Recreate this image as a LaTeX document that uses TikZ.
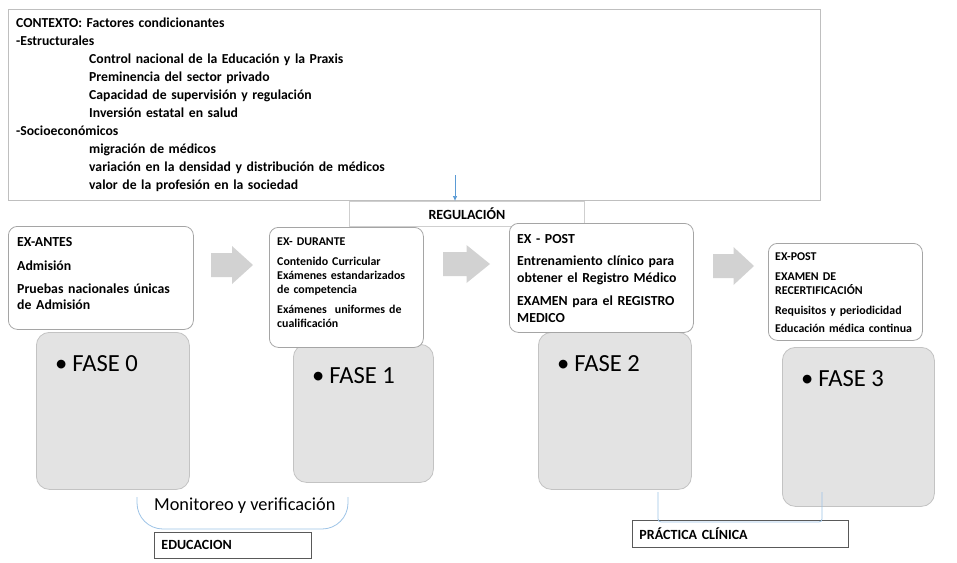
\documentclass[tikz,border=0pt]{standalone}
\usepackage{fontspec}
\setmainfont{Carlito}
\usetikzlibrary{calc,arrows.meta}

\definecolor{lineGray}{HTML}{BFBFBF}
\definecolor{exGray}{HTML}{A5A5A5}
\definecolor{faseFill}{HTML}{E3E3E3}
\definecolor{faseLine}{HTML}{C3C3C3}
\definecolor{arrowFill}{HTML}{D2D2D2}
\definecolor{softBlue}{HTML}{9DC3E6}
\definecolor{midBlue}{HTML}{5B9BD5}
\definecolor{darkLine}{HTML}{595959}

\begin{document}
\begin{tikzpicture}[x=1pt,y=-1pt,
  frame/.style={draw=lineGray, line width=0.8pt, anchor=north west, inner sep=0pt},
  exbox/.style={draw=exGray, line width=0.8pt, fill=white, rounded corners=9pt, anchor=north west, inner sep=0pt},
  fasebox/.style={draw=faseLine, line width=0.8pt, fill=faseFill, rounded corners=13pt, anchor=north west, inner sep=0pt},
  labelbox/.style={draw=darkLine, line width=0.9pt, fill=white, anchor=north west, inner xsep=7pt, inner ysep=0pt, align=left, font=\bfseries\fontsize{14}{16}\selectfont},
  bigtxt/.style={anchor=base west, inner sep=0pt, text width=200pt, align=left, font=\bfseries\fontsize{13.8}{16}\selectfont},
  smalltxt/.style={anchor=base west, inner sep=0pt, text width=180pt, align=left, font=\bfseries\fontsize{11.9}{14}\selectfont},
  fasetxt/.style={anchor=base west, inner sep=0pt, font=\fontsize{24.6}{28}\selectfont},
  bracket/.style={draw=softBlue, line width=0.8pt}
]
\useasboundingbox (0,0) rectangle (957,562);

% contexto y regulacion
\node[frame, minimum width=812, minimum height=191] (ctx) at (8,9) {};
\node[anchor=base west, inner sep=0pt, text width=700pt, align=left,
      font=\bfseries\fontsize{13.7}{18}\selectfont] (ctxTxt) at (16,27.5)
  {CONTEXTO: Factores condicionantes\\
   -Estructurales\\
   \hspace*{73pt}Control nacional de la Educación y la Praxis\\
   \hspace*{73pt}Preminencia del sector privado\\
   \hspace*{73pt}Capacidad de supervisión y regulación\\
   \hspace*{73pt}Inversión estatal en salud\\
   -Socioeconómicos\\
   \hspace*{73pt}migración de médicos\\
   \hspace*{73pt}variación en la densidad y distribución de médicos\\
   \hspace*{73pt}valor de la profesión en la sociedad};
\node[frame, draw=lineGray!75, minimum width=235, minimum height=25,
      font=\bfseries\fontsize{14}{16}\selectfont] (reg) at (349,201) {REGULACIÓN};
\coordinate (regIn) at (455,175);
\draw[midBlue, line width=0.7pt, -{Latex[length=5pt,width=4.5pt]}] (regIn) -- (regIn |- reg.north);

% flechas grises
\foreach \ax/\ay/\al in {211/265/42, 443/264/47, 713/266/41}
  \fill[arrowFill] (\ax,\ay-12) -- (\ax+\al/2,\ay-12) -- (\ax+\al/2,\ay-19)
    -- (\ax+\al,\ay) -- (\ax+\al/2,\ay+19) -- (\ax+\al/2,\ay+12) -- (\ax,\ay+12) -- cycle;

% fases
\foreach \n/\fx/\fy/\fw/\fh in {0/36/332/153/157, 1/293/344/140/138, 2/538/332/153/157, 3/782/347/152/159}
  {
  \node[fasebox, minimum width=\fw, minimum height=\fh] (fase\n) at (\fx,\fy) {};
  \node[fasetxt] (fase\n Txt) at ($(fase\n.north west)+(19,39)$) {\textbullet\hspace{5pt}FASE \n};
  }

% cajas EX
\node[exbox, minimum width=185, minimum height=103] (antes) at (8,226) {};
\node[bigtxt] (antesTxt) at (17,246.5)
  {EX-ANTES\\[7.5pt]
   Admisión\\[7.5pt]
   Pruebas nacionales únicas\\
   de Admisión};

\node[exbox, minimum width=154, minimum height=120] (durante) at (269,227) {};
\node[smalltxt] (duranteTxt) at (277,245)
  {EX- DURANTE\\[6pt]
   Contenido Curricular\\
   Exámenes estandarizados\\
   de competencia\\[6pt]
   Exámenes\ \ uniformes de\\
   cualificación};

\node[exbox, minimum width=184, minimum height=109] (post) at (509,223) {};
\node[bigtxt, font=\bfseries\fontsize{13.8}{17}\selectfont] (postTxt) at (517,243.3)
  {EX - POST\\[5.5pt]
   Entrenamiento clínico para\\
   obtener el Registro Médico\\[5.5pt]
   EXAMEN para el REGISTRO\\
   MEDICO};

\node[exbox, minimum width=154, minimum height=97] (recert) at (768,243) {};
\node[smalltxt, font=\bfseries\fontsize{11.9}{14.5}\selectfont] (recertTxt) at (775,260)
  {EX-POST\\[5.5pt]
   EXAMEN DE\\
   RECERTIFICACIÓN\\[5pt]
   Requisitos y periodicidad\\[4pt]
   Educación médica continua};

% monitoreo / educacion
\node[anchor=base west, inner sep=0pt, font=\fontsize{18.3}{20}\selectfont] (monTxt) at (154,510.7) {Monitoreo y verificación};
\coordinate (monL) at (137,497);
\coordinate (monR) at (348,497);
\draw[bracket, rounded corners=26pt] (monL) -- ++(0,32) -| (monR);
\node[labelbox, minimum width=157, minimum height=26, text width=143pt] (edu) at (154,532) {EDUCACION};

% practica clinica
\node[labelbox, minimum width=216, minimum height=27, text width=202pt] (prac) at (632,520) {PRÁCTICA CLÍNICA};
\coordinate (pracL) at (658,492);
\coordinate (pracR) at (822,492);
\draw[bracket, rounded corners=3pt] (pracL) -- ++(0,30) -| (pracR);
\end{tikzpicture}
\end{document}
